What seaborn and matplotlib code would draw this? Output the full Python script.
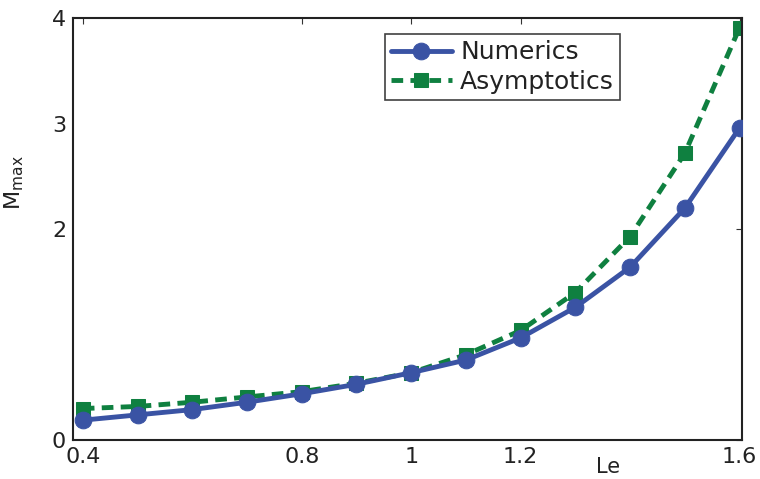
import numpy as np
import pandas as pd
import matplotlib
matplotlib.use("Agg")
import matplotlib.pyplot as plt
import seaborn as sns

sns.set_theme(style="white")
plt.rcParams["font.family"] = ["DejaVu Sans"]

le = [0.4, 0.5, 0.6, 0.7, 0.8, 0.9, 1.0, 1.1, 1.2, 1.3, 1.4, 1.5, 1.6]
numerics = [0.19, 0.24, 0.29, 0.36, 0.44, 0.53, 0.64, 0.76, 0.97, 1.26, 1.64, 2.20, 2.96]
asymptotics = [0.30, 0.32, 0.36, 0.41, 0.46, 0.54, 0.64, 0.81, 1.04, 1.40, 1.93, 2.72, 3.91]

x_ticks = [0.4, 0.8, 1.0, 1.2, 1.6]
x_tick_labels = ["0.4", "0.8", "1", "1.2", "1.6"]
y_ticks = [0, 2, 3, 4]

blue = "#3a53a4"
green = "#0f8040"
text_col = "#222222"

df = pd.DataFrame({"Le": le, "Numerics": numerics, "Asymptotics": asymptotics})

fig = plt.figure(figsize=(7.6, 4.79), dpi=100)
ax = fig.add_axes([0.096, 0.081, 0.880, 0.881])

sns.lineplot(data=df, x="Le", y="Numerics", ax=ax, color=blue, lw=3.5,
             marker="o", markersize=12, markeredgecolor=blue, markerfacecolor=blue,
             label="Numerics", zorder=3)
sns.lineplot(data=df, x="Le", y="Asymptotics", ax=ax, color=green, lw=3.5,
             marker="s", markersize=10, markeredgecolor=green, markerfacecolor=green,
             label="Asymptotics", zorder=2)
ax.lines[-1].set_dashes([2.4, 1.5])

ax.set_xlim(0.382, 1.604)
ax.set_ylim(0, 4)
ax.set_xticks(x_ticks)
ax.set_xticklabels(x_tick_labels)
ax.set_yticks(y_ticks)
ax.set_yticklabels([str(v) for v in y_ticks])

ax.tick_params(direction="in", length=4, width=0.8, top=True, right=True,
               labelsize=16, colors="#333333", labelcolor=text_col, pad=5)
for s in ax.spines.values():
    s.set_color("#222222")
    s.set_linewidth(1.5)

ax.set_xlabel("Le", fontsize=15, color=text_col, va="baseline")
ax.xaxis.set_label_coords(0.80, -0.078)
ax.set_ylabel(r"M$_{\mathregular{max}}$", fontsize=16, color=text_col, va="center")
ax.yaxis.set_label_coords(-0.088, 0.61)

leg = ax.legend(loc="upper left", bbox_to_anchor=(0.466, 0.962), fontsize=18,
                frameon=True, fancybox=False, handlelength=2.45, borderpad=0.25,
                labelspacing=0.22, handletextpad=0.32, borderaxespad=0)
leg.get_frame().set_edgecolor("#111111")
leg.get_frame().set_linewidth(1.2)
for t in leg.get_texts():
    t.set_color(text_col)

fig.savefig("out.png", dpi=100)
